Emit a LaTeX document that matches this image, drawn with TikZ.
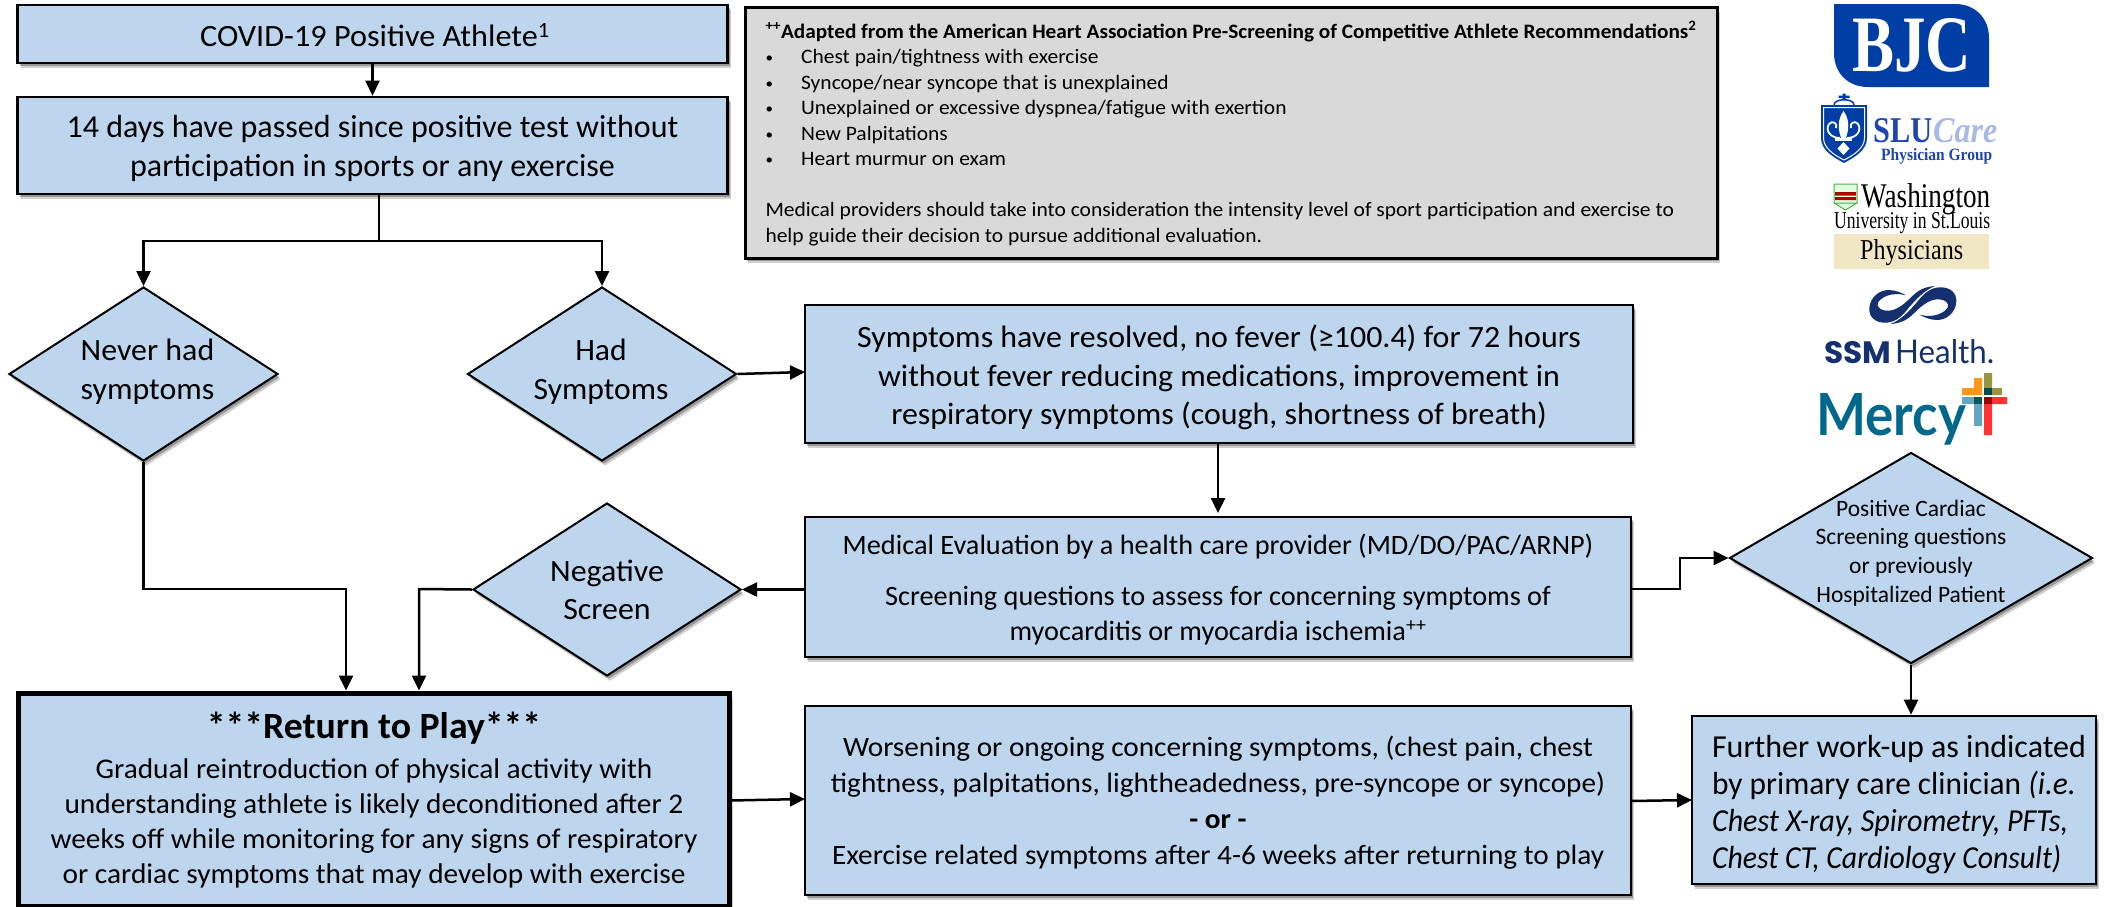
\documentclass[tikz,border=0pt]{standalone}
\usepackage{fontspec}
\usepackage{graphicx}
\setmainfont{Carlito}
\newfontfamily\serifl{Liberation Serif}
\newfontfamily\lato{Lato}
\newfontfamily\popp{Poppins}
\usetikzlibrary{arrows.meta,shapes.geometric,shadows,calc}
\definecolor{boxblue}{HTML}{BDD6EE}
\definecolor{boxgrey}{HTML}{D9D9D9}
\definecolor{bjcblue}{HTML}{003DA5}
\definecolor{slublue}{HTML}{1F45B0}
\definecolor{carelt}{HTML}{AAB8E6}
\definecolor{beige}{HTML}{F2E7C4}
\definecolor{ssmnavy}{HTML}{14306F}
\definecolor{mercyteal}{HTML}{00688A}
% sx, size, leading, align, dx, raise, lines
\newcommand{\tb}[7]{\smash{\raisebox{\dimexpr#6pt-0.27em\relax}{\makebox[0pt]{\kern#5pt\kern#5pt\scalebox{#1}[1]{\fontsize{#2}{#3}\selectfont\begin{tabular}{@{}#4@{}}#7\end{tabular}}}}}}
\newcommand{\fit}[3]{\resizebox{#1pt}{#2pt}{#3}}
\newcommand{\bul}{\makebox[34pt][l]{\raisebox{1pt}{\scalebox{.7}{\textbullet}}}}
\tikzset{
  softshadow/.style={drop shadow={shadow xshift=3pt,shadow yshift=-5pt,opacity=.18,fill=black},drop shadow={shadow xshift=2pt,shadow yshift=-3pt,opacity=.28,fill=black}},
  flowbox/.style={draw=black,line width=2.6pt,fill=boxblue,rectangle,inner sep=0pt,softshadow},
  flowdia/.style={draw=black,line width=2pt,fill=boxblue,diamond,inner sep=0pt,softshadow},
  conn/.style={draw=black,line width=2.5pt},
  arr/.style={conn,-{Triangle[length=15pt,width=14pt]}},
  logotext/.style={inner sep=0pt,anchor=base west},
}
\begin{document}
\begin{tikzpicture}[x=1pt,y=-1pt]
\useasboundingbox (0,0) rectangle (2107,906);
% flow boxes
\node[flowbox,minimum width=710pt,minimum height=58pt] (pos) at (372.5,34) {\tb{1.04}{31}{38}{c}{2.5}{-8}{COVID-19 Positive Athlete\textsuperscript{1}}};
\node[flowbox,minimum width=710pt,minimum height=97pt] (days) at (372.5,145.5) {\tb{1}{32}{38.5}{c}{0}{-7.5}{14 days have passed since positive test without\\participation in sports or any exercise}};
\node[flowdia,minimum width=269pt,minimum height=174pt] (never) at (143.5,374) {\tb{1.03}{31}{39}{c}{4}{-2}{Never had\\symptoms}};
\node[flowdia,minimum width=269pt,minimum height=174pt] (had) at (602,374) {\tb{1.02}{31}{39}{c}{-1}{-2}{Had\\Symptoms}};
\node[flowbox,minimum width=828pt,minimum height=138pt] (sym) at (1219,374) {\tb{1.03}{31}{38.5}{c}{0}{-8}{Symptoms have resolved, no fever (≥100.4) for 72 hours\\without fever reducing medications, improvement in\\respiratory symptoms (cough, shortness of breath)}};
\node[flowbox,minimum width=826pt,minimum height=140pt] (med) at (1218,587) {\tb{1.01}{28}{34.5}{c}{0}{-7}{Medical Evaluation by a health care provider (MD/DO/PAC/ARNP)\\[17pt]Screening questions to assess for concerning symptoms of\\myocarditis or myocardia ischemia\textsuperscript{++}}};
\node[flowdia,minimum width=268pt,minimum height=173pt] (neg) at (607,589.5) {\tb{1.03}{31}{38}{c}{0}{-6.5}{Negative\\Screen}};
\node[flowdia,minimum width=363pt,minimum height=211pt] (cardiac) at (1911,558) {\tb{1}{23.5}{28.7}{c}{0}{1}{Positive Cardiac\\Screening questions\\or previously\\Hospitalized Patient}};
\node[flowbox,line width=5pt,minimum width=711pt,minimum height=213pt] (ret) at (374,799.5) {\tb{1.03}{28.5}{35}{c}{0}{-7}{\scalebox{.99}[1]{\fontsize{37}{41}\selectfont\textbf{***Return to Play***}}\\[5pt]Gradual reintroduction of physical activity with\\understanding athlete is likely deconditioned after 2\\weeks off while monitoring for any signs of respiratory\\or cardiac symptoms that may develop with exercise}};
\node[flowbox,minimum width=826pt,minimum height=189pt] (wors) at (1218,800.5) {\tb{1.045}{28}{36}{c}{0}{-6}{Worsening or ongoing concerning symptoms, (chest pain, chest\\tightness, palpitations, lightheadedness, pre-syncope or syncope)\\\textbf{- or -}\\Exercise related symptoms after 4-6 weeks after returning to play}};
\node[flowbox,minimum width=404pt,minimum height=168pt] (further) at (1894,800) {\tb{1}{32}{37}{l}{5}{-9}{Further work-up as indicated\\\scalebox{.98}[1]{by primary care clinician \textit{(i.e.}}\\\scalebox{.94}[1]{\textit{Chest X-ray, Spirometry, PFTs,}}\\\scalebox{.93}[1]{\textit{Chest CT, Cardiology Consult)}}}};
% grey note
\node[flowbox,fill=boxgrey,line width=3pt,minimum width=972pt,minimum height=251pt] (note) at (1231,132.5) {\tb{1.048}{20.5}{25.5}{l}{0}{-5}{\scalebox{.99}[1]{\textbf{\textsuperscript{++}Adapted from the American Heart Association Pre-Screening of Competitive Athlete Recommendations\textsuperscript{2}}}\\
\bul Chest pain/tightness with exercise\\
\bul Syncope/near syncope that is unexplained\\
\bul Unexplained or excessive dyspnea/fatigue with exertion\\
\bul New Palpitations\\
\bul Heart murmur on exam\\[25.5pt]
Medical providers should take into consideration the intensity level of sport participation and exercise to\\
help guide their decision to pursue additional evaluation.}};
% connectors
\coordinate (split) at (379,241);
\coordinate (turnA) at (346,589);
\coordinate (turnB) at (419,589);
\coordinate (symin) at (805,372);
\coordinate (medtop) at (1218,513);
\coordinate (step1) at (1680,589);
\coordinate (step2) at (1680,558);
\coordinate (wout) at (1631,801);
\coordinate (fin) at (1692,800);
\coordinate (rout) at (730,800.5);
\coordinate (win) at (805,799);
\coordinate (medout) at (1631,589);
\draw[arr] (pos.south) -- (days.north);
\draw[conn] (days.south -| split) -- (split);
\draw[arr] (split) -| (never.north);
\draw[arr] (split) -| (had.north);
\draw[arr] (had.east) -- (symin);
\draw[arr] (sym.south -| medtop) -- (medtop);
\draw[arr] (never.south) |- (turnA) -- (turnA |- ret.north);
\draw[arr] (neg.west) -- (turnB) -- (turnB |- ret.north);
\draw[arr] (med.west |- neg.east) -- (neg.east);
\draw[arr] (medout) -- (step1) -- (step2) -- (cardiac.west);
\draw[arr] (cardiac.south) -- (further.north -| cardiac.south);
\draw[arr] (rout) -- (win);
\draw[arr] (wout) -- (fin);
% BJC logo
\path[fill=bjcblue] (1834,4) -- (1955,4) .. controls (1975,4) and (1989,18) .. (1989,38) -- (1989,87) -- (1868,87) .. controls (1848,87) and (1834,73) .. (1834,53) -- cycle;
\node[logotext,text=white] (bjc) at (1852,71) {\fit{119}{53}{\serifl\bfseries BJC}};
% SLU logo
\path[fill=bjcblue] (1821,105) -- (1867,105) -- (1867,138) .. controls (1867,150) and (1855,157) .. (1844,163) .. controls (1833,157) and (1821,150) .. (1821,138) -- cycle;
\draw[bjcblue,line width=1.5pt,fill=white] (1834,105) .. controls (1834,98) and (1854,98) .. (1854,105);
\path[fill=bjcblue] (1842.5,93.5) rectangle (1845.5,100) (1838.5,95.5) rectangle (1849.5,98);
\draw[white,line width=1pt] (1823.5,107.5) -- (1864.5,107.5) -- (1864.5,138) .. controls (1864.5,148) and (1854,155) .. (1844,160) .. controls (1834,155) and (1823.5,148) .. (1823.5,138) -- cycle;
\path[fill=white] (1843.5,111) .. controls (1837,120) and (1838,130) .. (1841.5,139) -- (1845.5,139) .. controls (1849,130) and (1850,120) .. (1843.5,111) -- cycle;
\path[fill=white] (1835,138) rectangle (1852,140.5);
\path[fill=white] (1843.5,142) -- (1849.5,148.5) -- (1843.5,155) -- (1837.5,148.5) -- cycle;
\draw[white,line width=1.8pt] (1840,138) .. controls (1830,138) and (1825,130) .. (1829,124) .. controls (1832,120) and (1838,123) .. (1836,128);
\draw[white,line width=1.8pt] (1847,138) .. controls (1857,138) and (1862,130) .. (1858,124) .. controls (1855,120) and (1849,123) .. (1851,128);
\node[logotext,text=slublue] (slu) at (1873,142) {\fit{59}{24}{\serifl\bfseries SLU}};
\node[logotext,text=carelt] (care) at (1933,142) {\fit{64}{24}{\serifl\bfseries\itshape Care}};
\node[logotext,text=slublue] (phys) at (1881,160) {\fit{111}{12}{\serifl\bfseries Physician Group}};
% Washington logo
\path[fill=green!12!white,draw=green!40!gray,line width=1pt] (1834,184) rectangle (1857,203) -- (1857,203) -- (1845.5,210) -- (1834,203);
\path[fill=red!70!black] (1835,192) rectangle (1856,195.5) (1835,197) rectangle (1856,200);
\node[logotext] (wash) at (1861,207) {\fit{129}{24}{\serifl Washington}};
\node[logotext] (univ) at (1834,228) {\fit{156}{16}{\serifl University in St.Louis}};
\path[fill=beige] (1834,234) rectangle (1989,269);
\node[logotext] (physw) at (1860,259) {\fit{103}{20}{\serifl Physicians}};
% SSM logo
\path[fill=ssmnavy] (1869.3,308.3) .. controls (1870,296.7) and (1880,290) .. (1888.3,290) .. controls (1895,290) and (1901.7,292.7) .. (1906,295.3) .. controls (1898.3,293.3) and (1888.3,293.3) .. (1880.7,299.3) .. controls (1876,302.7) and (1876,308.3) .. (1884,310.3) .. controls (1893.3,312.3) and (1901.7,306.7) .. (1911.7,296.7) .. controls (1918.3,290) and (1925,286.7) .. (1935,286) .. controls (1925,290) and (1916.7,298.3) .. (1908.3,308.3) .. controls (1901.7,316.7) and (1895,322.7) .. (1885,322.7) .. controls (1875,322.7) and (1868.7,316.7) .. (1869.3,308.3) -- cycle;
\path[fill=ssmnavy,rotate around={180:(1912.8,305)}] (1869.3,308.3) .. controls (1870,296.7) and (1880,290) .. (1888.3,290) .. controls (1895,290) and (1901.7,292.7) .. (1906,295.3) .. controls (1898.3,293.3) and (1888.3,293.3) .. (1880.7,299.3) .. controls (1876,302.7) and (1876,308.3) .. (1884,310.3) .. controls (1893.3,312.3) and (1901.7,306.7) .. (1911.7,296.7) .. controls (1918.3,290) and (1925,286.7) .. (1935,286) .. controls (1925,290) and (1916.7,298.3) .. (1908.3,308.3) .. controls (1901.7,316.7) and (1895,322.7) .. (1885,322.7) .. controls (1875,322.7) and (1868.7,316.7) .. (1869.3,308.3) -- cycle;
\node[logotext,text=ssmnavy] (ssm) at (1824,363) {\fit{67}{22}{\popp\bfseries SSM}};
\node[logotext,text=ssmnavy] (health) at (1895,363) {\fit{99}{24}{\lato Health.}};
% Mercy logo
\node[logotext,text=mercyteal] (mercy) at (1816,435) {\fit{150}{42}{\lato\bfseries Mercy}};
\path[fill=orange!90!yellow,opacity=.9] (1962,388) rectangle (1982,395) (1974,378) rectangle (1982,388);
\path[fill=olive!70!gray,opacity=.9] (1984,373) rectangle (1992,395) (1992,388) rectangle (2002,395);
\path[fill=teal!60!black] (1984,388) rectangle (1992,395);
\path[fill=cyan!50!gray] (1962,397) rectangle (1982,404) (1974,404) rectangle (1982,426);
\path[fill=teal!70!black] (1974,397) rectangle (1982,404);
\path[fill=red!80!white] (1984,397) rectangle (2007,404) (1984,404) rectangle (1992,435);
\path[fill=red!60!black] (1984,397) rectangle (1992,404);
\end{tikzpicture}
\end{document}
